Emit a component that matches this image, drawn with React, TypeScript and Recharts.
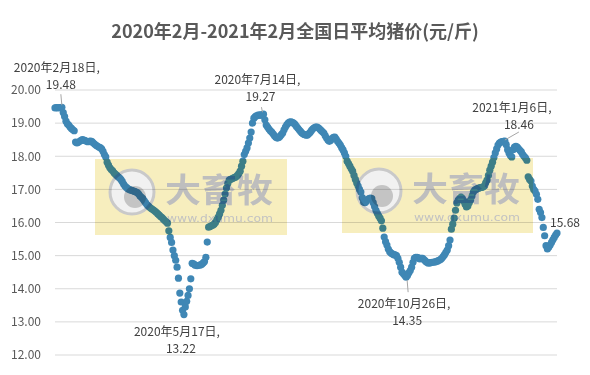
import { LineChart, Line, XAxis, YAxis, CartesianGrid, LabelList } from 'recharts';

// daily average pig price, 2020-02-13 .. 2021-02-13 (yuan / jin)
const feb20 = [19.46, 19.47, 19.46, 19.47, 19.47, 19.48, 19.32, 19.2, 19.06, 18.98, 18.94, 18.88, 18.84, 18.8, 18.77, 18.43, 18.4];
const mar20 = [18.42, 18.45, 18.48, 18.5, 18.49, 18.47, 18.45, 18.44, 18.45, 18.46, 18.44, 18.4, 18.36, 18.33, 18.3, 18.28, 18.26, 18.22, 18.15, 18.05, 17.98, 17.82, 17.73, 17.65, 17.6, 17.56, 17.5, 17.46, 17.42, 17.38, 17.35];
const apr20 = [17.3, 17.24, 17.16, 17.1, 17.06, 17.02, 17.0, 16.98, 16.97, 16.95, 16.94, 16.92, 16.9, 16.86, 16.8, 16.76, 16.72, 16.66, 16.6, 16.54, 16.5, 16.46, 16.43, 16.4, 16.37, 16.34, 16.3, 16.26, 16.22, 16.18];
const may20 = [16.15, 16.1, 16.06, 16.02, 15.98, 15.75, 15.55, 15.4, 15.17, 15.0, 14.86, 14.65, 14.32, 13.87, 13.6, 13.35, 13.22, 13.45, 13.62, 13.8, 14.0, 14.3, 14.77, 14.75, 14.72, 14.7, 14.7, 14.71, 14.72, 14.74, 14.78];
const jun20 = [14.82, 14.95, 15.41, 15.86, 15.88, 15.9, 15.92, 15.95, 16.0, 16.08, 16.16, 16.26, 16.37, 16.52, 16.68, 16.86, 17.04, 17.18, 17.28, 17.3, 17.32, 17.34, 17.36, 17.38, 17.42, 17.48, 17.55, 17.7, 17.85, 18.05];
const jul20 = [18.15, 18.25, 18.4, 18.55, 18.73, 19.0, 19.15, 19.2, 19.22, 19.24, 19.24, 19.25, 19.24, 19.27, 19.1, 18.94, 18.88, 18.82, 18.77, 18.73, 18.68, 18.62, 18.57, 18.55, 18.56, 18.6, 18.65, 18.7, 18.8, 18.88, 18.95];
const aug20 = [19.0, 19.03, 19.04, 19.02, 19.0, 18.96, 18.9, 18.85, 18.8, 18.75, 18.7, 18.67, 18.65, 18.64, 18.64, 18.68, 18.72, 18.78, 18.83, 18.86, 18.88, 18.88, 18.86, 18.82, 18.78, 18.74, 18.7, 18.62, 18.55, 18.49, 18.45];
const sep20 = [18.48, 18.53, 18.57, 18.58, 18.52, 18.45, 18.4, 18.34, 18.26, 18.19, 18.1, 18.0, 17.85, 17.78, 17.7, 17.62, 17.55, 17.42, 17.3, 17.19, 17.1, 17.0, 16.92, 16.75, 16.62, 16.6, 16.64, 16.7, 16.72, 16.74];
const oct20 = [16.72, 16.6, 16.48, 16.37, 16.28, 16.2, 16.13, 16.05, 15.83, 15.56, 15.42, 15.32, 15.2, 15.12, 15.08, 15.05, 15.03, 15.02, 15.0, 14.92, 14.8, 14.65, 14.5, 14.45, 14.4, 14.35, 14.4, 14.48, 14.55, 14.65, 14.8];
const nov20 = [14.92, 14.95, 14.95, 14.93, 14.9, 14.92, 14.92, 14.88, 14.84, 14.8, 14.78, 14.78, 14.79, 14.8, 14.8, 14.81, 14.82, 14.84, 14.86, 14.88, 14.92, 14.97, 15.03, 15.1, 15.17, 15.3, 15.47, 15.8, 15.95, 16.13];
const dec20 = [16.37, 16.59, 16.68, 16.72, 16.77, 16.72, 16.65, 16.55, 16.47, 16.5, 16.6, 16.68, 16.8, 16.92, 16.98, 17.0, 17.02, 17.04, 17.05, 17.06, 17.07, 17.1, 17.2, 17.28, 17.42, 17.58, 17.7, 17.82, 17.96, 18.1, 18.22];
const jan21 = [18.34, 18.4, 18.43, 18.44, 18.45, 18.46, 18.35, 18.2, 18.1, 18.02, 17.98, 18.2, 18.28, 18.3, 18.28, 18.22, 18.18, 18.13, 18.05, 18.0, 17.95, 17.88, 17.38, 17.3, 17.25, 17.1, 17.0, 16.95, 16.85, 16.7, 16.4];
const feb21 = [16.3, 16.15, 15.85, 15.6, 15.3, 15.2, 15.25, 15.32, 15.4, 15.48, 15.55, 15.62, 15.68];

const yTicks = [12, 13, 14, 15, 16, 17, 18, 19, 20];
const calloutDates = ['2020年2月18日', '2020年5月17日', '2020年7月14日', '2020年10月26日', '2021年1月6日'];

const prices = [...feb20, ...mar20, ...apr20, ...may20, ...jun20, ...jul20, ...aug20, ...sep20, ...oct20, ...nov20, ...dec20, ...jan21, ...feb21];
const dates = prices.map((_, i) => {
  const d = new Date(Date.UTC(2020, 1, 13 + i));
  return `${d.getUTCFullYear()}年${d.getUTCMonth() + 1}月${d.getUTCDate()}日`;
});
const data = prices.map((price, i) => ({ i, date: dates[i], price }));

const BLUE = '#3F87B5';
const FONT = '"Noto Sans CJK SC", "Noto Sans", sans-serif';

// label placement relative to the point
const placement: Record<string, { a: [number, number]; b: [number, number]; lead?: [number, number, number, number] }> = {
  '2020年2月18日': { a: [-5, -41], b: [-1, -24], lead: [-1, -13, 0, -2] },
  '2020年5月17日': { a: [-7, 16], b: [-3, 33] },
  '2020年7月14日': { a: [-6, -36], b: [-3, -19], lead: [-2, -7, -1, -2] },
  '2020年10月26日': { a: [-2, 25], b: [1, 42], lead: [1, 3, 2, 15] },
  '2021年1月6日': { a: [7, -35], b: [14, -18], lead: [0, -1, 14, -9] },
};

const renderCallout = (props: any) => {
  const { x, y, value } = props;
  const idx = Number(value);
  const date = dates[idx];
  const price = prices[idx].toFixed(2);
  const txt = { fontSize: 12, fill: '#404040', textAnchor: 'middle' as const, dominantBaseline: 'central' as const };
  if (idx === prices.length - 1) {
    return <text x={x + 8} y={y - 12} {...txt}>{price}</text>;
  }
  const p = placement[date];
  if (!calloutDates.includes(date) || !p) return null;
  return (
    <g>
      {p.lead && (
        <line x1={x + p.lead[0]} y1={y + p.lead[1]} x2={x + p.lead[2]} y2={y + p.lead[3]} stroke="#a6a6a6" strokeWidth={1} />
      )}
      <text x={x + p.a[0]} y={y + p.a[1]} {...txt}>{date},</text>
      <text x={x + p.b[0]} y={y + p.b[1]} {...txt}>{price}</text>
    </g>
  );
};

function Watermark({ left, top, w, h }: { left: number; top: number; w: number; h: number }) {
  return (
    <g transform={`translate(${left},${top})`}>
      <rect x={0} y={0} width={w} height={h} fill="#F7EEBE" />
      <circle cx={37} cy={33} r={22} fill="#F1F1F1" stroke="#C9C9C9" strokeWidth={3} />
      <circle cx={40} cy={38} r={11} fill="#C4C4C4" />
      <text x={70} y={42.5} fontSize={33} fontWeight={700} fill="#BEBEBE" textLength={108} lengthAdjust="spacingAndGlyphs">大畜牧</text>
      <text x={72} y={63} fontSize={11} fontFamily="DejaVu Sans" fill="#C2C2C2" textLength={106} lengthAdjust="spacingAndGlyphs">www.dxumu.com</text>
    </g>
  );
}

export default function App() {
  return (
    <div style={{ position: 'relative', width: 590, height: 375, background: '#fff', fontFamily: FONT }}>
      <style>{'body{margin:0}'}</style>
      <div
        style={{
          position: 'absolute',
          top: 17,
          left: 0,
          width: 590,
          textAlign: 'center',
          fontSize: 18,
          fontWeight: 700,
          color: '#595959',
          lineHeight: '26px',
        }}
      >
        2020年2月-2021年2月全国日平均猪价(元/斤)
      </div>
      <LineChart width={590} height={375} data={data} margin={{ top: 90, right: 33, bottom: 20, left: 0 }}>
        <CartesianGrid vertical={false} stroke="#d9d9d9" />
        <XAxis dataKey="i" type="number" domain={[0, prices.length - 1]} hide />
        <YAxis
          domain={[12, 20]}
          ticks={yTicks}
          interval={0}
          width={55}
          axisLine={false}
          tickLine={false}
          tickMargin={8}
          tickFormatter={(v: number) => v.toFixed(2)}
          tick={{ fontSize: 12, fill: '#595959' }}
        />
        <Line
          dataKey="price"
          stroke="none"
          dot={{ r: 3.6, fill: BLUE, stroke: 'none', strokeWidth: 0 }}
          activeDot={false}
          isAnimationActive={false}
        >
          <LabelList dataKey="i" content={renderCallout} />
        </Line>
      </LineChart>
      <svg
        width={590}
        height={375}
        style={{ position: 'absolute', left: 0, top: 0, pointerEvents: 'none', mixBlendMode: 'multiply' }}
      >
        <Watermark left={95} top={159} w={192} h={76} />
        <Watermark left={342} top={158} w={191} h={75} />
      </svg>
    </div>
  );
}
